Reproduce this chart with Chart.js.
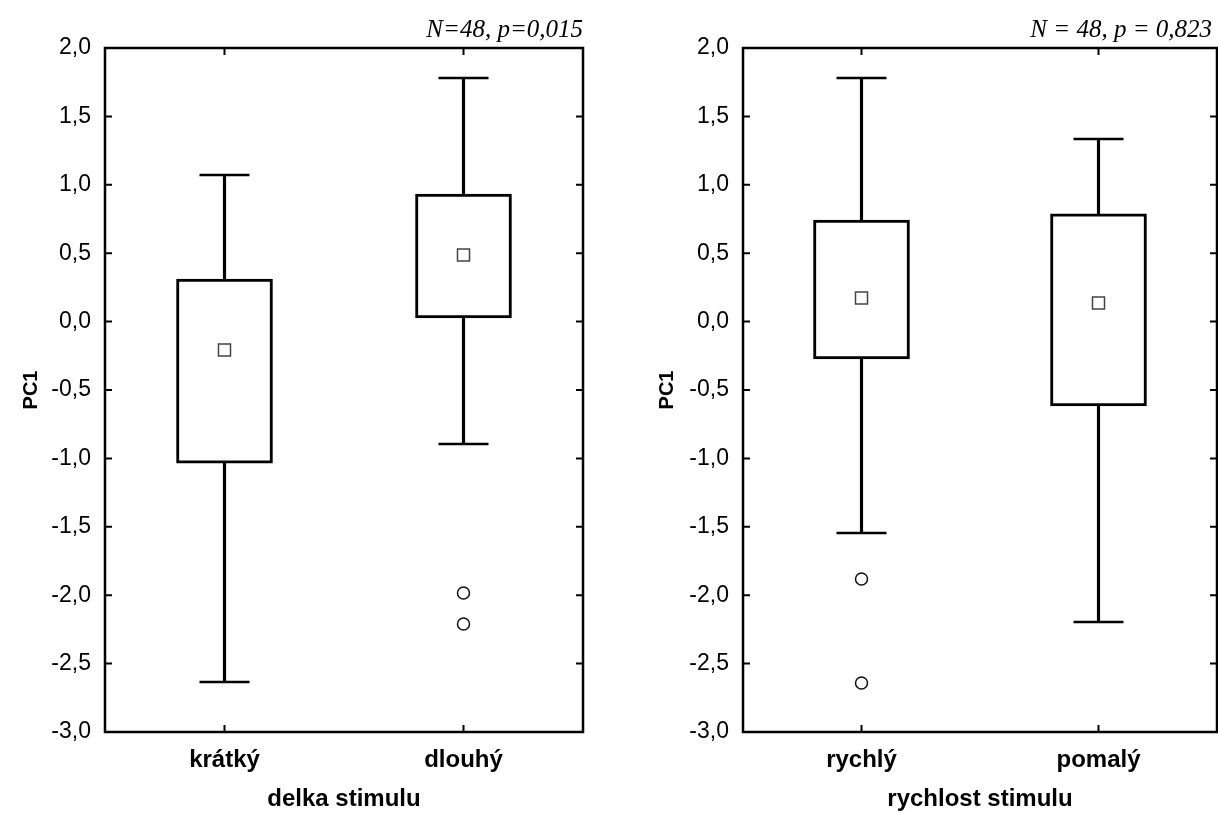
<!DOCTYPE html>
<html>
<head>
<meta charset="utf-8">
<script src="https://cdn.jsdelivr.net/npm/chart.js@4.4.0/dist/chart.umd.min.js"></script>
<style>
  body { margin: 0; background: #fff; overflow: hidden; }
  .panel { position: absolute; top: 0; height: 814px; }
  #left { left: 0; width: 610px; }
  #right { left: 610px; width: 608px; }
</style>
</head>
<body>
<div class="panel" id="left"><canvas id="chart-delka" width="610" height="814"></canvas></div>
<div class="panel" id="right"><canvas id="chart-rychlost" width="608" height="814"></canvas></div>
<script>
// delka stimulu
const delkaLabels = ['krátký', 'dlouhý'];
const delkaWhiskerLow = [-2.635, -0.895];
const delkaBoxLow = [-1.034, 0.026];
const delkaMean = [-0.208, 0.487];
const delkaBoxHigh = [0.311, 0.933];
const delkaWhiskerHigh = [1.072, 1.78];
const delkaOutliers = [[], [-1.984, -2.211]];

// rychlost stimulu
const rychlostLabels = ['rychlý', 'pomalý'];
const rychlostWhiskerLow = [-1.545, -2.196];
const rychlostBoxLow = [-0.273, -0.617];
const rychlostMean = [0.173, 0.136];
const rychlostBoxHigh = [0.743, 0.787];
const rychlostWhiskerHigh = [1.78, 1.335];
const rychlostOutliers = [[-1.882, -2.642], []];

const yMin = -3.0;
const yMax = 2.0;
const yStep = 0.5;

const tickFont = { family: '"Liberation Sans", Arial, sans-serif', size: 23 };
const boldFont = { family: '"Liberation Sans", Arial, sans-serif', size: 24, weight: 'bold' };

// frame, inward ticks and the N/p note
const framePlugin = {
  id: 'frame',
  afterDraw(chart) {
    const { ctx, chartArea: a, scales } = chart;
    const len = 7;
    ctx.save();
    ctx.strokeStyle = '#000';
    ctx.lineWidth = 2.5;
    ctx.strokeRect(a.left, a.top, a.right - a.left, a.bottom - a.top);
    ctx.lineWidth = 2;
    ctx.beginPath();
    scales.y.ticks.forEach((t) => {
      const y = scales.y.getPixelForValue(t.value);
      ctx.moveTo(a.left, y); ctx.lineTo(a.left + len, y);
      ctx.moveTo(a.right, y); ctx.lineTo(a.right - len, y);
    });
    scales.x.ticks.forEach((t, i) => {
      const x = scales.x.getPixelForTick(i);
      ctx.moveTo(x, a.top); ctx.lineTo(x, a.top + len);
      ctx.moveTo(x, a.bottom); ctx.lineTo(x, a.bottom - len);
    });
    ctx.stroke();

    const opts = chart.options.plugins.frame;
    ctx.fillStyle = '#000';
    ctx.font = 'italic 25px "Liberation Serif", "Times New Roman", serif';
    ctx.textAlign = 'right';
    ctx.textBaseline = 'alphabetic';
    ctx.fillText(opts.note, a.right - opts.noteShift, a.top - 11);
    ctx.restore();
  }
};

const makePanel = (id, labels, wLow, bLow, mean, bHigh, wHigh, outliers, axisTitle, note, layout) => {
  const outlierSets = [];
  const most = Math.max(...outliers.map((o) => o.length));
  for (let k = 0; k < most; k++) {
    outlierSets.push({
      type: 'line',
      data: outliers.map((o) => (o[k] === undefined ? null : o[k])),
      showLine: false,
      pointStyle: 'circle',
      pointRadius: 6,
      pointBorderWidth: 1.5,
      pointBorderColor: '#111',
      pointBackgroundColor: '#fff',
      order: 0
    });
  }

  const ctx = document.getElementById(id).getContext('2d');
  return new Chart(ctx, {
    type: 'bar',
    data: {
      labels: labels,
      datasets: [
        {
          // whisker stems
          type: 'bar',
          data: labels.map((_, i) => [wLow[i], wHigh[i]]),
          backgroundColor: '#000',
          borderWidth: 0,
          barThickness: 2.5,
          grouped: false,
          order: 4
        },
        {
          // boxes
          type: 'bar',
          data: labels.map((_, i) => [bLow[i], bHigh[i]]),
          backgroundColor: '#fff',
          borderColor: '#000',
          borderWidth: 3,
          borderSkipped: false,
          barThickness: 96,
          grouped: false,
          order: 3
        },
        {
          type: 'line',
          data: wHigh,
          showLine: false,
          pointStyle: 'line',
          pointRadius: 25,
          pointBorderWidth: 2.5,
          pointBorderColor: '#000',
          order: 2
        },
        {
          type: 'line',
          data: wLow,
          showLine: false,
          pointStyle: 'line',
          pointRadius: 25,
          pointBorderWidth: 2.5,
          pointBorderColor: '#000',
          order: 2
        },
        {
          // means
          type: 'line',
          data: mean,
          showLine: false,
          pointStyle: 'rect',
          pointRadius: 8.5,
          pointBorderWidth: 1.5,
          pointBorderColor: '#444',
          pointBackgroundColor: '#fff',
          order: 0
        },
        ...outlierSets
      ]
    },
    options: {
      responsive: false,
      animation: false,
      layout: { autoPadding: false, padding: { left: 0, right: layout.rightPad, top: 48, bottom: 0 } },
      plugins: {
        legend: { display: false },
        tooltip: { enabled: false },
        frame: { note: note, noteShift: layout.noteShift }
      },
      scales: {
        x: {
          type: 'category',
          offset: true,
          border: { display: false },
          grid: { display: false, drawTicks: false },
          ticks: { color: '#000', font: boldFont, padding: 14, maxRotation: 0 },
          title: { display: true, text: axisTitle, color: '#000', font: boldFont, padding: { top: 0, bottom: 0 } },
          afterFit: (scale) => { scale.height = 82 }
        },
        y: {
          min: yMin,
          max: yMax,
          border: { display: false },
          grid: { display: false, drawTicks: false },
          ticks: {
            stepSize: yStep,
            color: '#000',
            font: tickFont,
            padding: 14,
            callback: (v) => v.toFixed(1).replace('.', ',')
          },
          title: { display: true, text: 'PC1', color: '#000', font: { family: '"Liberation Sans", Arial, sans-serif', size: 20, weight: 'bold' }, padding: { top: layout.titlePad, bottom: 0 } },
          afterFit: (scale) => { scale.width = layout.yWidth }
        }
      }
    },
    plugins: [framePlugin]
  });
};

makePanel('chart-delka', delkaLabels, delkaWhiskerLow, delkaBoxLow, delkaMean, delkaBoxHigh,
  delkaWhiskerHigh, delkaOutliers, 'delka stimulu', 'N=48, p=0,015',
  { yWidth: 105, rightPad: 27, titlePad: 19, noteShift: 0 });

makePanel('chart-rychlost', rychlostLabels, rychlostWhiskerLow, rychlostBoxLow, rychlostMean, rychlostBoxHigh,
  rychlostWhiskerHigh, rychlostOutliers, 'rychlost stimulu', 'N = 48, p = 0,823',
  { yWidth: 133, rightPad: 1, titlePad: 45, noteShift: 5 });
</script>
</body>
</html>
